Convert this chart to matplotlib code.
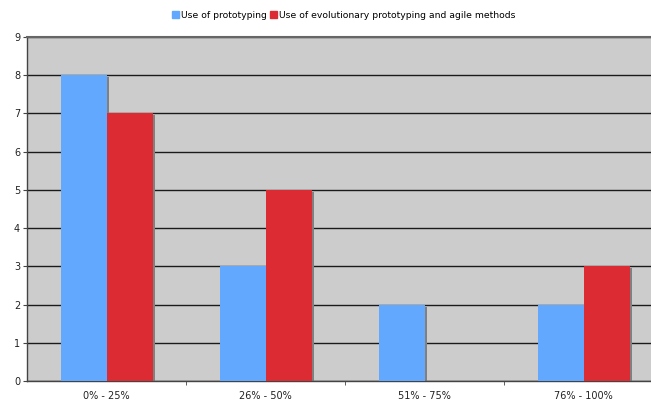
import matplotlib
import matplotlib.pyplot as plt
import numpy as np

plt.switch_backend("agg")
plt.rcParams["font.family"] = ["DejaVu Sans"]

categories = ["0% - 25%", "26% - 50%", "51% - 75%", "76% - 100%"]
prototyping = [8, 3, 2, 2]
evolutionary = [7, 5, 0, 3]
series_names = [
    "Use of prototyping",
    "Use of evolutionary prototyping and agile methods",
]

BLUE = "#62a8fe"
RED = "#dd2b33"
BG = "#cccccc"
SHADOW = "#808080"

fig = plt.figure(figsize=(6.51, 4.03), dpi=100)
ax = fig.add_axes([27 / 651, 22 / 403, 624 / 651, 344 / 403])
ax.set_facecolor(BG)

x = np.arange(len(categories))
cat_px = 159.0  # the last category is clipped by the figure edge
width = 46 / cat_px
dx = 2 / cat_px
dy = 2 / 38.2

for offset, vals, color in [(-width / 2, prototyping, BLUE), (width / 2, evolutionary, RED)]:
    pos = x + offset
    heights = np.array(vals, dtype=float)
    # drop shadow behind each bar
    ax.bar(pos + dx, np.clip(heights - dy, 0, None), width, color=SHADOW,
           linewidth=0, zorder=2)
    ax.bar(pos, heights, width, color=color, linewidth=0, zorder=3)

ax.set_xlim(-0.5, -0.5 + 624 / cat_px)
ax.set_ylim(0, 9)
ax.set_yticks(range(10))
ax.set_axisbelow(True)
ax.yaxis.grid(True, color="#1a1a1a", linewidth=1.0)

ax.set_xticks(x)
ax.set_xticklabels(categories, fontsize=7, color="#222222")
ax.set_xticks(np.arange(0.5, 3.5, 1), minor=True)
ax.tick_params(axis="x", which="major", length=0, pad=7)
ax.tick_params(axis="x", which="minor", length=3, color="#444444")
ax.tick_params(axis="y", length=3, labelsize=7, labelcolor="#222222",
               color="#444444", pad=2)

for side in ["left", "bottom"]:
    ax.spines[side].set_color("#444444")
    ax.spines[side].set_linewidth(1.0)
ax.spines["top"].set_color("#666666")
ax.spines["top"].set_linewidth(1.5)
ax.spines["right"].set_visible(False)

handles = [
    plt.Rectangle((0, 0), 1, 1, color=BLUE),
    plt.Rectangle((0, 0), 1, 1, color=RED),
]
fig.legend(handles, series_names, loc="center", bbox_to_anchor=(0.528, 0.962),
           ncol=2, frameon=False, fontsize=6.7, handlelength=0.75,
           handleheight=0.75, handletextpad=0.2, columnspacing=0.3)

fig.savefig("out.png", dpi=100)
